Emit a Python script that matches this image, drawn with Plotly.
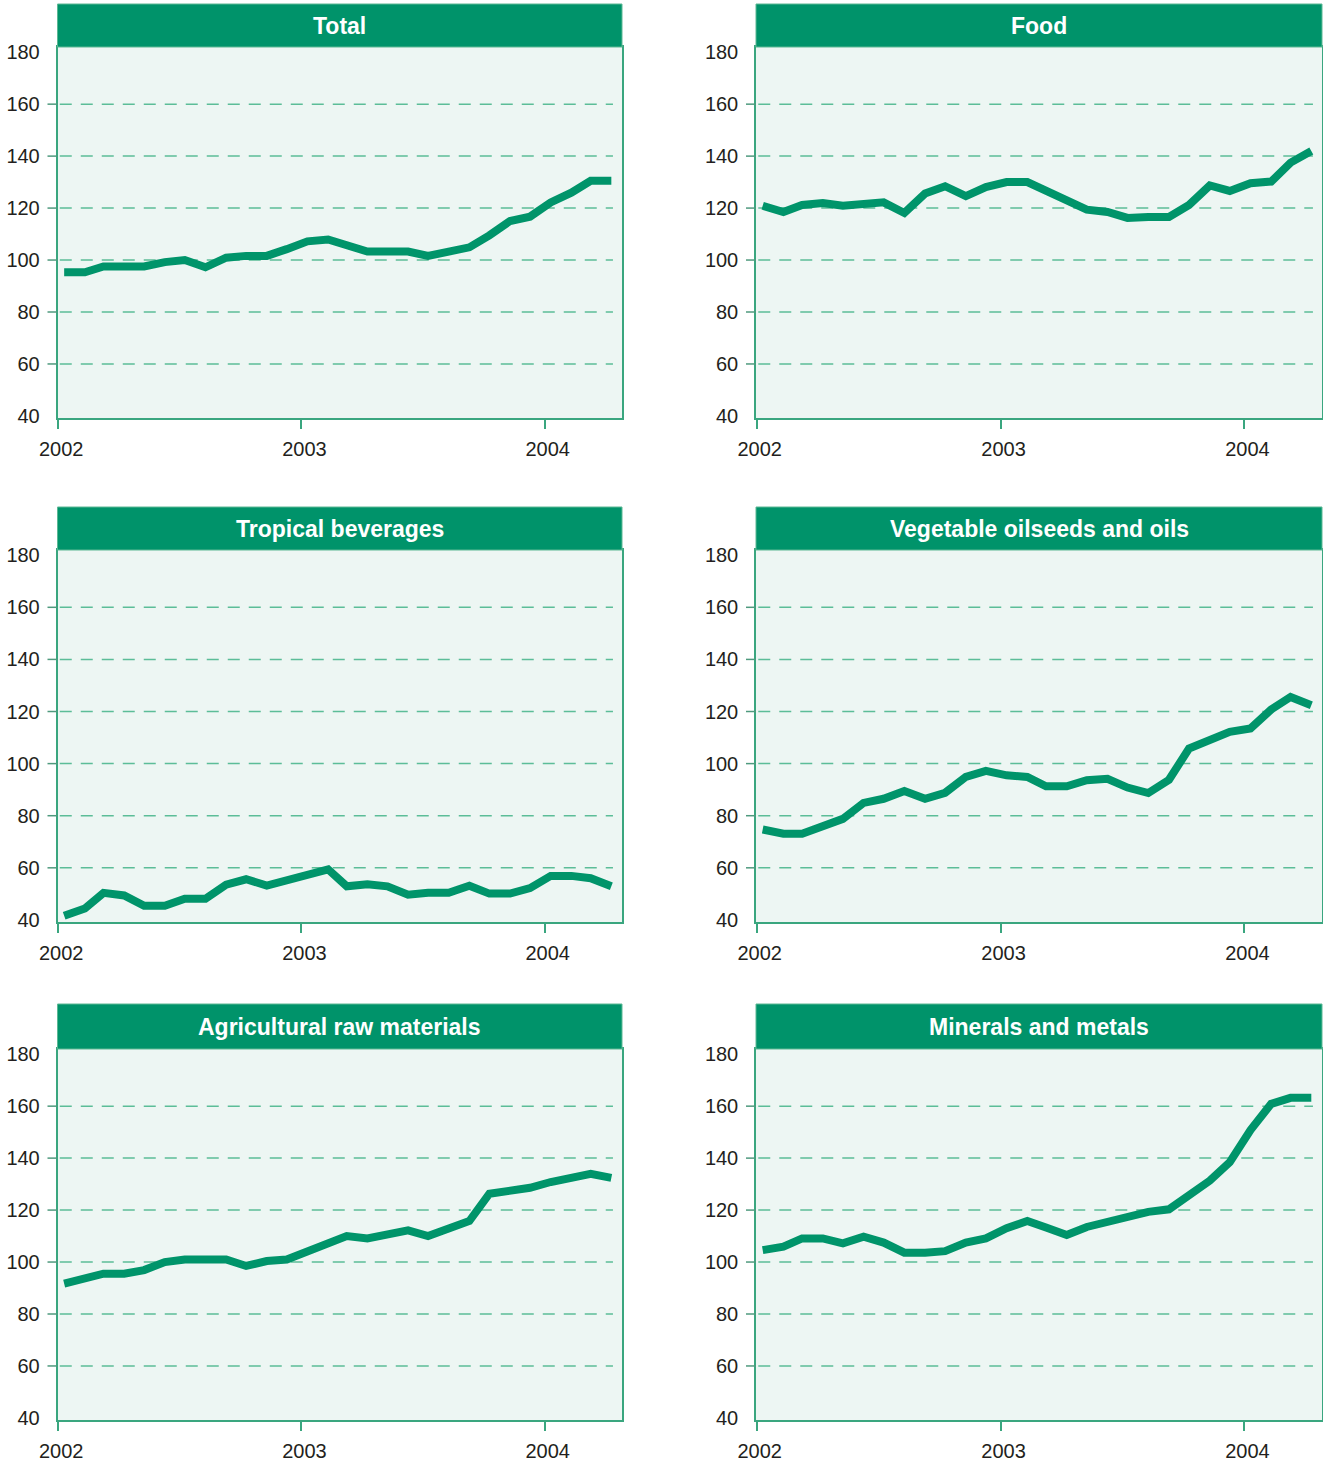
import plotly.graph_objects as go

# ---------------- data ----------------
years = [2002, 2003, 2004]
month_dates = [f"{2002 + i // 12}-{i % 12 + 1:02d}-10" for i in range(28)]  # Jan 2002 .. Apr 2004

titles = ["Total", "Food", "Tropical beverages", "Vegetable oilseeds and oils",
          "Agricultural raw materials", "Minerals and metals"]

total = [95.3, 95.3, 97.5, 97.5, 97.5, 99.2, 100.0, 97.2, 100.9, 101.6, 101.6, 104.2, 107.2, 107.9,
         105.5, 103.3, 103.3, 103.3, 101.6, 103.2, 104.9, 109.5, 115.0, 116.7, 122.2, 125.9, 130.5, 130.5]
food = [120.9, 118.5, 121.2, 121.9, 120.9, 121.5, 122.2, 118.1, 125.6, 128.4, 124.6, 128.1, 130.0, 130.0,
        126.9, 123.1, 119.4, 118.5, 116.2, 116.6, 116.6, 121.2, 128.7, 126.6, 129.6, 130.2, 137.5, 142.0]
tropical = [41.6, 44.4, 50.4, 49.4, 45.4, 45.4, 48.1, 48.1, 53.5, 55.6, 53.2, 55.4, 57.5, 59.4,
            52.9, 53.7, 52.9, 49.7, 50.4, 50.4, 53.1, 50.1, 50.1, 52.2, 56.9, 56.9, 56.0, 52.9]
oilseeds = [74.7, 73.1, 73.1, 76.0, 78.8, 84.9, 86.5, 89.5, 86.5, 88.8, 94.9, 97.2, 95.5, 94.9,
            91.3, 91.3, 93.6, 94.2, 90.8, 88.7, 93.8, 105.8, 109.0, 112.2, 113.5, 120.8, 125.6, 122.4]
agri = [91.7, 93.3, 95.5, 95.5, 96.9, 100.0, 101.0, 101.0, 101.0, 98.5, 100.4, 101.0, 104.2, 107.4,
        110.0, 109.1, 110.6, 112.2, 110.0, 113.0, 115.8, 126.3, 127.6, 128.6, 130.8, 132.2, 134.0, 132.4]
minerals = [104.6, 105.9, 109.1, 109.1, 107.2, 109.8, 107.5, 103.6, 103.6, 104.2, 107.5, 109.1, 113.0, 115.8,
            113.3, 110.4, 113.5, 115.6, 117.1, 119.3, 120.3, 126.1, 131.3, 138.4, 150.8, 160.9, 163.2, 163.2]
series = [total, food, tropical, oilseeds, agri, minerals]

y_ticks = [40, 60, 80, 100, 120, 140, 160, 180]
grid_vals = [60, 80, 100, 120, 140, 160]

# ---------------- style / layout ----------------
W, H = 1323, 1465
LINE = "#00946a"
HEADER = "#00936a"
BG = "#edf6f3"
GRID = "#5cbd98"
AXIS = "#3aa67f"
TXT = "#231f20"

col_px = [(57.5, 622.0), (756.0, 1322.0)]
row_plot_px = [(47.0, 418.0), (550.0, 922.0), (1049.0, 1420.0)]
row_head_px = [(4.0, 47.0), (507.0, 550.0), (1004.0, 1049.0)]


def px_x(v):
    return v / W


def px_y(v):
    return 1 - v / H


fig = go.Figure()
shapes = []
annotations = []

for k in range(6):
    r, c = divmod(k, 2)
    idx = "" if k == 0 else str(k + 1)
    xa = "x" + idx
    ya = "y" + idx
    x0p, x1p = col_px[c]
    y0p, y1p = row_plot_px[r]
    fig.add_trace(go.Scatter(
        x=month_dates, y=series[k], mode="lines",
        line=dict(color=LINE, width=8, shape="linear"),
        xaxis=xa, yaxis=ya, showlegend=False, hoverinfo="skip"))

    fig.layout["xaxis" + idx] = dict(
        domain=[px_x(x0p), px_x(x1p)], anchor=ya, type="date",
        range=["2001-12-31", "2004-04-26"],
        tickvals=[f"{y}-01-01" for y in years], ticktext=[str(y) for y in years],
        ticks="outside", ticklen=9, tickcolor=AXIS, tickwidth=1.5,
        showline=True, linecolor=AXIS, linewidth=1.5, mirror=True,
        showgrid=False, zeroline=False, automargin=False,
        tickfont=dict(family="Liberation Sans, Arial, sans-serif", size=20, color=TXT),
        ticklabelstandoff=3, ticklabelshift=3)
    fig.layout["yaxis" + idx] = dict(
        domain=[px_y(y1p), px_y(y0p)], anchor=xa,
        range=[39.2, 182.0], tickvals=y_ticks,
        ticks="outside", ticklen=12, tickcolor="rgba(0,0,0,0)",
        showline=True, linecolor=AXIS, linewidth=1.5, mirror=True,
        showgrid=False, zeroline=False, automargin=False,
        tickfont=dict(family="Liberation Sans, Arial, sans-serif", size=20, color=TXT))

    # dashed gridlines and short tick marks
    for g in grid_vals:
        shapes.append(dict(type="line", xref=xa + " domain", yref=ya,
                           x0=0.004, x1=0.984, y0=g, y1=g,
                           line=dict(color=GRID, width=1.5, dash="12px,9px"), layer="below"))
        shapes.append(dict(type="line", xref=xa + " domain", yref=ya,
                           x0=-10 / (x1p - x0p), x1=0, y0=g, y1=g,
                           line=dict(color="#4f9a7e", width=1.5)))

    # header bar
    h0, h1 = row_head_px[r]
    shapes.append(dict(type="rect", xref="paper", yref="paper",
                       x0=px_x(x0p), x1=px_x(x1p), y0=px_y(h1), y1=px_y(h0),
                       fillcolor=HEADER, line=dict(color="#5cb894", width=1)))
    annotations.append(dict(xref="paper", yref="paper",
                            x=px_x((x0p + x1p) / 2), y=px_y((h0 + h1) / 2),
                            text="<b>" + titles[k] + "</b>", showarrow=False,
                            xanchor="center", yanchor="middle",
                            font=dict(family="Liberation Sans, Arial, sans-serif", size=23, color="white")))

# plot background rectangles per subplot
for k in range(6):
    r, c = divmod(k, 2)
    x0p, x1p = col_px[c]
    y0p, y1p = row_plot_px[r]
    shapes.insert(0, dict(type="rect", xref="paper", yref="paper", layer="below",
                          x0=px_x(x0p), x1=px_x(x1p), y0=px_y(y1p), y1=px_y(y0p),
                          fillcolor=BG, line=dict(width=0)))

fig.update_layout(
    width=W, height=H, margin=dict(l=0, r=0, t=0, b=0, autoexpand=False),
    paper_bgcolor="white", plot_bgcolor=BG,
    shapes=shapes, annotations=annotations)

fig.write_html("out.html", config={"displayModeBar": False},
               post_script="document.body.style.margin='0';document.body.style.overflow='hidden';")
